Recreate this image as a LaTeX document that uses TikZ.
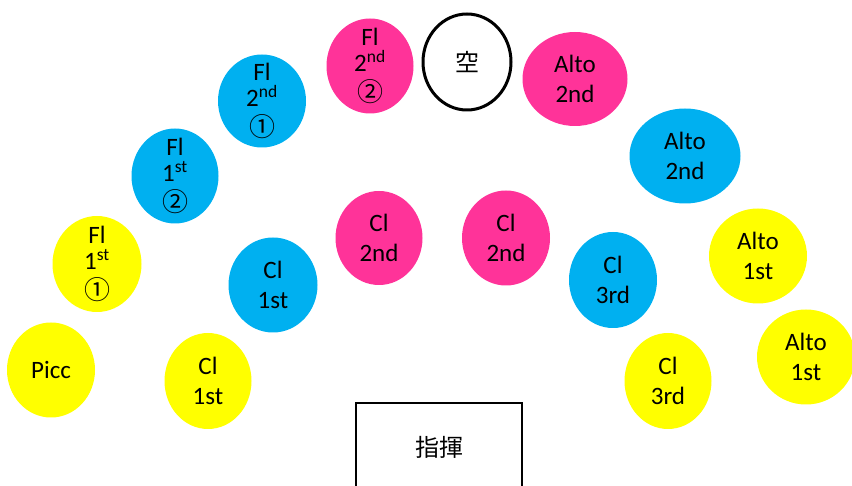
\documentclass[tikz,border=0pt]{standalone}
\usepackage{fontspec}
\setmainfont{Carlito}
\newfontfamily\cjk{Noto Sans CJK JP}
\usetikzlibrary{shapes.geometric}
\definecolor{mypink}{HTML}{FF3399}
\definecolor{myblue}{HTML}{00B0F0}
\definecolor{myyellow}{HTML}{FFFF00}
\newcommand{\circnum}[1]{{\fontsize{26}{30}\selectfont\cjk #1}}
\begin{document}
\begin{tikzpicture}[x=1pt,y=-1pt,
  seat/.style={ellipse, inner sep=0pt, align=center, text=black,
    font=\fontsize{25}{30}\selectfont},
  three/.style={inner ysep=-15pt},
  yel/.style={seat, fill=myyellow},
  blu/.style={seat, fill=myblue},
  pnk/.style={seat, fill=mypink},
  podium/.style={rectangle, draw=black, line width=2pt, fill=white,
    minimum width=166, minimum height=88, font=\fontsize{24}{30}\selectfont\cjk}]
\useasboundingbox (0,0) rectangle (852,486);
\clip (0,0) rectangle (852,486);
\node[yel, minimum width=88, minimum height=95] (picc) at (51,370) {Picc};
\node[yel, minimum width=87, minimum height=96] (cl1y) at (208,381) {Cl\\1st};
\node[yel, three, minimum width=89, minimum height=96] (fl1a) at (97,264) {Fl\\[-4pt]1\textsuperscript{st}\\[0pt]\circnum{①}};
\node[blu, three, minimum width=87, minimum height=95] (fl1b) at (175,176) {Fl\\[-4pt]1\textsuperscript{st}\\[0pt]\circnum{②}};
\node[blu, three, minimum width=88, minimum height=93] (fl2a) at (262,101) {Fl\\[-4pt]2\textsuperscript{nd}\\[0pt]\circnum{①}};
\node[pnk, three, minimum width=87, minimum height=95] (fl2b) at (370,66) {Fl\\[-4pt]2\textsuperscript{nd}\\[0pt]\circnum{②}};
\node[seat, draw=black, line width=3pt, fill=white, minimum width=88, minimum height=96, font=\fontsize{24}{30}\selectfont\cjk] (empty) at (467,62) {空};
\node[pnk, minimum width=105, minimum height=94] (alto2p) at (575,79) {Alto\\2nd};
\node[blu, minimum width=111, minimum height=95] (alto2b) at (685,156) {Alto\\2nd};
\node[yel, minimum width=98, minimum height=95] (alto1a) at (758,256) {Alto\\1st};
\node[yel, minimum width=98, minimum height=95] (alto1b) at (806,357) {Alto\\1st};
\node[yel, minimum width=87, minimum height=96] (cl3y) at (668,381) {Cl\\3rd};
\node[blu, minimum width=88, minimum height=96] (cl3b) at (613,280) {Cl\\3rd};
\node[pnk, minimum width=88, minimum height=95] (cl2r) at (506,238) {Cl\\2nd};
\node[pnk, minimum width=87, minimum height=94] (cl2l) at (379,238) {Cl\\2nd};
\node[blu, minimum width=89, minimum height=95] (cl1b) at (273,285) {Cl\\1st};
\node[podium] (cond) at (439,447) {指揮};
\end{tikzpicture}
\end{document}
